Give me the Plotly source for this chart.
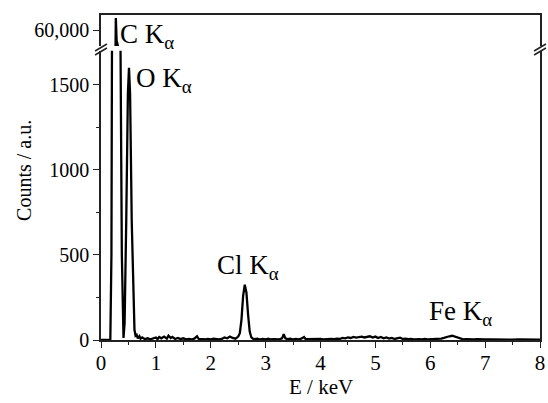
import plotly.graph_objects as go

# ---------------- data ----------------
energy_keV = [
    0.00, 0.10, 0.17, 0.19, 0.20, 0.23, 0.255, 0.27, 0.285, 0.32, 0.355, 0.38, 0.41,
    0.43, 0.46, 0.49, 0.51, 0.53, 0.56, 0.59, 0.61, 0.63, 0.65, 0.67, 0.70, 0.72,
    0.75, 0.80, 0.85, 0.90, 0.95, 1.00, 1.03, 1.06, 1.10, 1.15, 1.20, 1.23, 1.27,
    1.30, 1.35, 1.40, 1.45, 1.50, 1.55, 1.60, 1.65, 1.70, 1.75, 1.78, 1.85, 1.90,
    1.95, 2.00, 2.05, 2.10, 2.15, 2.20, 2.25, 2.30, 2.35, 2.40, 2.45, 2.50, 2.53,
    2.56, 2.59, 2.62, 2.65, 2.68, 2.71, 2.74, 2.78, 2.85, 2.90, 2.95, 3.00, 3.05,
    3.10, 3.15, 3.20, 3.25, 3.30, 3.33, 3.36, 3.40, 3.45, 3.50, 3.55, 3.60, 3.65,
    3.70, 3.73, 3.80, 3.85, 3.90, 3.95, 4.00, 4.05, 4.10, 4.15, 4.20, 4.25, 4.30,
    4.35, 4.40, 4.45, 4.50, 4.55, 4.60, 4.65, 4.70, 4.75, 4.80, 4.85, 4.90, 4.95,
    5.00, 5.05, 5.10, 5.15, 5.20, 5.25, 5.30, 5.35, 5.40, 5.45, 5.50, 5.55, 5.60,
    5.65, 5.70, 5.75, 5.80, 5.85, 5.90, 5.95, 6.00, 6.05, 6.10, 6.15, 6.20, 6.25,
    6.30, 6.35, 6.40, 6.45, 6.50, 6.55, 6.60, 6.65, 6.70, 6.75, 6.80, 6.85, 6.90,
    6.95, 7.00, 7.10, 7.20, 7.30, 7.40, 7.50, 7.60, 7.70, 7.80, 7.90, 8.00,
]
counts = [
    0, 0, 0, 500, 1750, 20000, 58000, 62400, 58000, 20000, 1750, 500, 12,
    100, 700, 1450, 1600, 1450, 700, 200, 60, 25, 30, 10, 22, 8,
    15, 5, 10, 4, 8, 15, 5, 18, 10, 20, 8, 25, 12,
    18, 6, 12, 5, 10, 4, 6, 3, 8, 22, 6, 5, 3,
    6, 4, 8, 5, 3, 6, 15, 10, 20, 12, 8, 20, 40,
    120, 260, 325, 280, 150, 50, 15, 5, 8, 3, 6, 4, 8,
    3, 5, 6, 4, 10, 35, 10, 5, 8, 3, 6, 4, 8,
    18, 5, 6, 3, 5, 4, 6, 3, 5, 4, 7, 5, 8,
    6, 12, 10, 15, 12, 18, 14, 16, 20, 15, 18, 22, 14,
    20, 12, 18, 10, 15, 8, 12, 6, 10, 14, 6, 8, 5,
    7, 4, 6, 5, 3, 6, 4, 5, 3, 6, 5, 8, 12,
    18, 22, 25, 20, 12, 6, 4, 5, 3, 4, 3, 5, 3,
    4, 3, 4, 3, 4, 3, 2, 4, 3, 2, 3, 2,
]

x_ticks = [0, 1, 2, 3, 4, 5, 6, 7, 8]
y_ticks_low = [0, 500, 1000, 1500]
y_ticks_high = [60000]
y_ticktext_high = ["60,000"]

peak_labels = ["C K<sub>α</sub>", "O K<sub>α</sub>", "Cl K<sub>α</sub>", "Fe K<sub>α</sub>"]

# ---------------- layout geometry ----------------
W, H = 548, 403
ML, MR, MT, MB = 101, 3, 15, 63
PW, PH = W - ML - MR, H - MT - MB


def px(xp):
    return (xp - ML) / PW


def py(yp):
    return (H - MB - yp) / PH


FONT = "Liberation Serif"
AX = "#222"

fig = go.Figure()
line = dict(color="black", width=2.3)
fig.add_trace(go.Scatter(x=energy_keV, y=counts, mode="lines", line=line,
                         xaxis="x", yaxis="y", showlegend=False, hoverinfo="skip"))
fig.add_trace(go.Scatter(x=energy_keV, y=counts, mode="lines", line=line,
                         xaxis="x2", yaxis="y2", showlegend=False, hoverinfo="skip"))

low_top = 0.89
high_bot = 0.905

fig.update_layout(
    width=W, height=H,
    margin=dict(l=ML, r=MR, t=MT, b=MB, pad=0),
    paper_bgcolor="white", plot_bgcolor="white",
    font=dict(family=FONT, size=19, color="black"),
    xaxis=dict(
        domain=[0, 1], range=[0, 8], anchor="y",
        tickvals=x_ticks, ticks="outside", ticklen=6, tickwidth=1.3, tickcolor=AX,
        showline=True, linecolor=AX, linewidth=1.5, showgrid=False, zeroline=False,
        minor=dict(dtick=0.5, tick0=0, ticks="outside", ticklen=3, tickwidth=1.3, tickcolor=AX),
        tickfont=dict(size=21, family=FONT), ticklabeloverflow="allow",
        ticklabelstandoff=-3,
    ),
    xaxis2=dict(
        domain=[0, 1], range=[0, 8], anchor="y2", matches="x", side="top",
        showticklabels=False, ticks="", showline=True, linecolor=AX, linewidth=1.5,
        showgrid=False, zeroline=False,
    ),
    yaxis=dict(
        domain=[0, low_top], range=[0, 1701], anchor="x",
        tickvals=y_ticks_low, ticks="outside", ticklen=6, tickwidth=1.3, tickcolor=AX,
        showline=True, mirror=True, linecolor=AX, linewidth=1.5,
        showgrid=False, zeroline=False,
        minor=dict(tickvals=[250, 750, 1250], ticks="outside", ticklen=3, tickwidth=1.3, tickcolor=AX),
        tickfont=dict(size=20, family=FONT),
    ),
    yaxis2=dict(
        domain=[high_bot, 1], range=[57000, 63000], anchor="x2",
        tickvals=y_ticks_high, ticktext=y_ticktext_high, ticks="outside", ticklen=6,
        tickwidth=1.3, tickcolor=AX,
        showline=True, mirror=True, linecolor=AX, linewidth=1.5,
        showgrid=False, zeroline=False, tickfont=dict(size=20, family=FONT),
    ),
)

# axis titles
fig.add_annotation(text="E / keV", xref="paper", yref="paper", x=0.5, y=py(387),
                   xanchor="center", yanchor="middle", showarrow=False,
                   font=dict(size=21, family=FONT))
fig.add_annotation(text="Counts / a.u.", xref="paper", yref="paper", x=px(23), y=py(170),
                   xanchor="center", yanchor="middle", textangle=-90, showarrow=False,
                   font=dict(size=20, family=FONT))

# peak labels (left edge, vertical centre in pixels)
label_pos = [(118, 36), (134, 80), (216, 267), (431, 313)]
for txt, (lx, ly) in zip(peak_labels, label_pos):
    fig.add_annotation(text=txt, xref="paper", yref="paper", x=px(lx), y=py(ly),
                       xanchor="left", yanchor="middle", showarrow=False,
                       font=dict(size=27, family=FONT))

# axis-break marks
for cx in (101, 545):
    for dy in (0, 4):
        fig.add_shape(type="line", xref="paper", yref="paper",
                      x0=px(cx - 6), y0=py(51 + dy), x1=px(cx + 6), y1=py(44 + dy),
                      line=dict(color=AX, width=1.5))

fig.write_html("out.html")
